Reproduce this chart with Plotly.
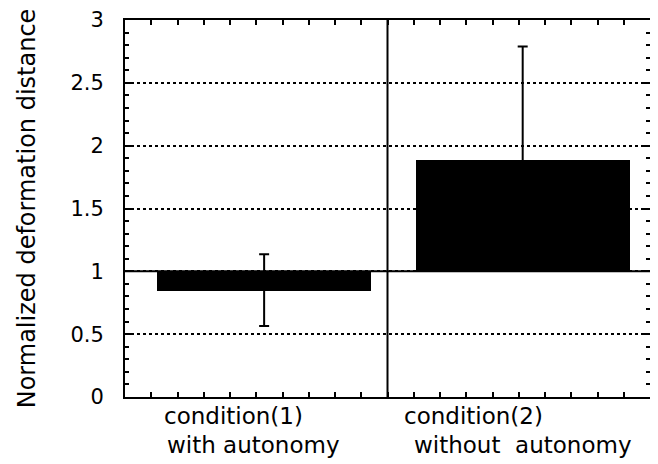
import plotly.graph_objects as go

# ---- data ----
bar_x = [5.3, 15.15]                 # category centres on the 0-20 x scale
bar_values = [0.845, 1.885]           # bar end values
bar_base = 1.0                        # bars are drawn from the reference level 1
err_plus = [0.29, 0.905]              # upper error lengths
err_minus = [0.28, 0.85]              # lower error lengths
label_line1 = ["condition(1)", "condition(2)"]
label_line2 = ["with autonomy", "without  autonomy"]
label_x1 = [1.41, 10.57]
label_x2 = [1.52, 10.95]
y_title = "Normalized deformation distance"
divider_x = 10

FONT = "DejaVu Sans"
# the page body adds an 8px margin, so the figure is 8px smaller than the window
W, H = 650, 456

fig = go.Figure()
fig.add_trace(go.Bar(
    x=bar_x,
    y=[v - bar_base for v in bar_values],
    base=[bar_base] * len(bar_values),
    width=8.15,
    marker=dict(color="black", line=dict(width=0)),
    showlegend=False,
))
fig.add_trace(go.Scatter(
    x=bar_x, y=bar_values, mode="markers",
    marker=dict(size=1, color="rgba(0,0,0,0)"),
    error_y=dict(type="data", symmetric=False, array=err_plus, arrayminus=err_minus,
                 visible=True, color="black", thickness=2, width=5),
    showlegend=False,
))

# reference lines
fig.add_shape(type="line", xref="paper", x0=0, x1=1, yref="y", y0=bar_base, y1=bar_base,
              line=dict(color="black", width=2))
fig.add_shape(type="line", xref="x", x0=divider_x, x1=divider_x, yref="paper", y0=0, y1=1,
              line=dict(color="black", width=2))

# category labels
for xs, t in zip(label_x1, label_line1):
    fig.add_annotation(text=t, x=xs, xref="x", y=-0.05, yref="paper",
                       xanchor="left", yanchor="middle", showarrow=False,
                       font=dict(family=FONT, size=23, color="black"))
for xs, t in zip(label_x2, label_line2):
    fig.add_annotation(text=t.replace("  ", "&nbsp; "), x=xs, xref="x", y=-0.127, yref="paper",
                       xanchor="left", yanchor="middle", showarrow=False,
                       font=dict(family=FONT, size=23, color="black"))

fig.add_annotation(text=y_title, textangle=-90, x=-0.187, xref="paper", y=0.5, yref="paper",
                   xanchor="center", yanchor="middle", showarrow=False,
                   font=dict(family=FONT, size=24, color="black"))

fig.update_layout(
    width=W, height=H,
    margin=dict(l=117, r=8, t=12, b=67, autoexpand=False),
    paper_bgcolor="white", plot_bgcolor="white",
    font=dict(family=FONT, color="black"),
    bargap=0,
)
fig.update_xaxes(
    automargin=False,
    range=[0, 20], showticklabels=False, ticks="inside", dtick=1, tick0=0,
    ticklen=5, tickwidth=1.5, tickcolor="black",
    showgrid=False, zeroline=False,
    showline=True, linecolor="black", linewidth=2, mirror="allticks",
)
fig.update_yaxes(
    automargin=False,
    range=[0, 3], dtick=0.5, tick0=0, ticks="inside", ticklen=6, tickwidth=1.5,
    tickcolor="black", ticklabelstandoff=15,
    tickfont=dict(family=FONT, size=21, color="black"),
    showgrid=True, gridcolor="black", griddash="dot", gridwidth=1.5,
    minor=dict(dtick=0.1, ticks="inside", ticklen=4, tickwidth=1.5, tickcolor="black", showgrid=False),
    zeroline=False,
    showline=True, linecolor="black", linewidth=2, mirror="allticks",
)

fig.write_html("out.html")
